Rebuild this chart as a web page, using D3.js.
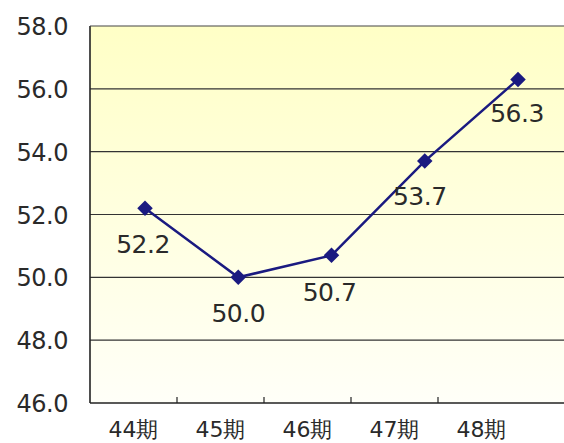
<!DOCTYPE html>
<html><head><meta charset="utf-8">
<script src="https://cdn.jsdelivr.net/npm/d3@7"></script>
<style>body{margin:0;background:#fff}svg{display:block}</style>
</head><body>
<script>
const categories = ["44期","45期","46期","47期","48期"];
const values = [52.2, 50.0, 50.7, 53.7, 56.3];
const yTicks = [46, 48, 50, 52, 54, 56, 58];

const W = 564, H = 443;
const L = 90, T = 26, B = 403, R = 564;
const svg = d3.select("body").append("svg").attr("width", W).attr("height", H);
const defs = svg.append("defs");
const g = defs.append("linearGradient").attr("id","bg").attr("x1",0).attr("y1",0).attr("x2",0).attr("y2",1);
g.append("stop").attr("offset","0%").attr("stop-color","#ffffc6");
g.append("stop").attr("offset","100%").attr("stop-color","#fffff8");

const y = d3.scaleLinear().domain([46, 58]).range([B, T]);
const xBand = d3.scaleBand().domain(categories).range([L, 525]);
const xPt = d3.scalePoint().domain(categories).range([145, 518]);

svg.append("rect").attr("x", L).attr("y", T).attr("width", R - L).attr("height", B - T).attr("fill", "url(#bg)");

svg.append("g").selectAll("line").data(yTicks.filter(d => d > 46 && d < 58)).join("line")
  .attr("x1", L).attr("x2", R).attr("y1", d => y(d)).attr("y2", d => y(d))
  .attr("stroke", "#333").attr("stroke-width", 1.2);

const font = "'DejaVu Sans', sans-serif";
svg.append("g").selectAll("text").data(yTicks).join("text")
  .attr("x", 68).attr("y", d => y(d) + 9).attr("text-anchor", "end")
  .attr("font-family", font).attr("font-size", 24).attr("fill", "#2a2a2a")
  .attr("letter-spacing", -0.5).text(d => d.toFixed(1));

// axes
svg.append("line").attr("x1", L).attr("x2", L).attr("y1", T).attr("y2", B).attr("stroke", "#222").attr("stroke-width", 1.6);
svg.append("line").attr("x1", L).attr("x2", R).attr("y1", T).attr("y2", T).attr("stroke", "#444").attr("stroke-width", 1.2);
svg.append("line").attr("x1", L).attr("x2", R).attr("y1", B).attr("y2", B).attr("stroke", "#222").attr("stroke-width", 1.6);
svg.append("g").selectAll("line").data(categories.slice(1)).join("line")
  .attr("x1", d => xBand(d)).attr("x2", d => xBand(d)).attr("y1", B).attr("y2", B - 6)
  .attr("stroke", "#222").attr("stroke-width", 1.2);

svg.append("g").selectAll("text").data(categories).join("text")
  .attr("x", d => xBand(d) + xBand.bandwidth() / 2).attr("y", 437).attr("text-anchor", "middle")
  .attr("font-family", font).attr("font-size", 22).attr("fill", "#2a2a2a").text(d => d);

// line
const line = d3.line().x((d, i) => xPt(categories[i])).y(d => y(d));
svg.append("path").datum(values).attr("d", line).attr("fill", "none").attr("stroke", "#1a1a80").attr("stroke-width", 2.5);
svg.append("g").selectAll("path").data(values).join("path")
  .attr("d", d3.symbol(d3.symbolSquare, 120)())
  .attr("transform", (d, i) => `translate(${xPt(categories[i])},${y(d)}) rotate(45)`)
  .attr("fill", "#1a1a80");

const lblDx = [-2, 0, -2, -5, -1];
const lblDy = [45, 45, 46, 44, 43];
svg.append("g").selectAll("text").data(values).join("text")
  .attr("x", (d, i) => xPt(categories[i]) + lblDx[i]).attr("y", (d, i) => y(d) + lblDy[i])
  .attr("text-anchor", "middle").attr("font-family", font).attr("font-size", 25).attr("fill", "#2a2a2a")
  .attr("letter-spacing", -0.5).text(d => d.toFixed(1));
</script>
</body></html>
